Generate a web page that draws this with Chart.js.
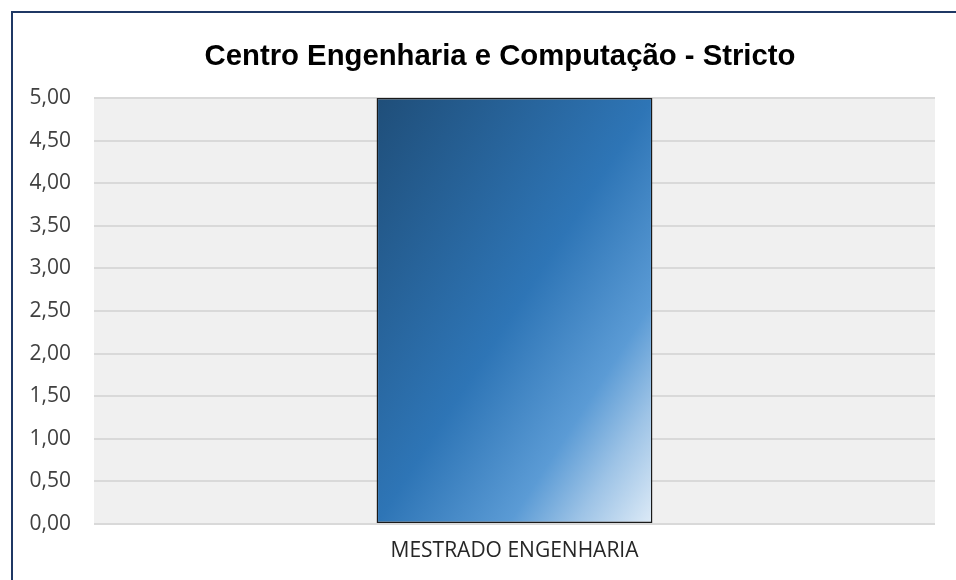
<!DOCTYPE html>
<html>
<head>
<meta charset="utf-8">
<script src="https://cdn.jsdelivr.net/npm/chart.js@4/dist/chart.umd.min.js"></script>
<style>
  html, body { margin: 0; padding: 0; background: #ffffff; }
  #wrap { position: relative; width: 956px; height: 580px; overflow: hidden; }
  #frame { position: absolute; left: 11px; top: 11px; width: 1000px; height: 700px; border: 2px solid #1f3864; box-sizing: border-box; }
  canvas { position: absolute; left: 0; top: 0; }
</style>
</head>
<body>
<div id="wrap">
  <div id="frame"></div>
  <canvas id="c" width="956" height="580"></canvas>
</div>
<script>
// Programas de pós-graduação stricto sensu do centro e respectivas notas
const categories = ['MESTRADO ENGENHARIA'];
const notas = [5.00];
const chartTitle = 'Centro Engenharia e Computação - Stricto';
const yMin = 0;
const yMax = 5;
const yStep = 0.5;

const BAR_PCT = 0.328;

// Fundo cinza da área de plotagem
const plotBackground = {
  id: 'plotBackground',
  beforeDraw(chart) {
    const { ctx, chartArea: a } = chart;
    ctx.save();
    ctx.fillStyle = '#f0f0f0';
    ctx.fillRect(a.left, a.top, a.right - a.left, a.bottom - a.top);
    ctx.restore();
  }
};

// Título centrado na moldura do gráfico (não apenas na área de plotagem)
const frameTitle = {
  id: 'frameTitle',
  afterDraw(chart, args, opts) {
    const ctx = chart.ctx;
    ctx.save();
    ctx.font = 'bold 29.3px "Liberation Sans", Arial, sans-serif';
    ctx.fillStyle = '#000000';
    ctx.textAlign = 'center';
    ctx.textBaseline = 'middle';
    ctx.fillText(opts.text, opts.x, opts.y);
    ctx.restore();
  }
};

// Degradê diagonal da barra: escuro no canto superior esquerdo, claro no inferior direito
function barGradient(context) {
  const chart = context.chart;
  const xs = chart.scales.x, ys = chart.scales.y;
  if (!chart.chartArea || !xs || !ys) return '#2e75b6';
  const i = context.dataIndex;
  const v = context.dataset.data[i];
  const w = (xs.width / categories.length) * BAR_PCT;
  const cx = xs.getPixelForValue(i);
  const top = ys.getPixelForValue(v);
  const base = ys.getPixelForValue(0);
  const h = Math.abs(base - top);
  if (!(w > 0 && h > 0) || !isFinite(cx)) return '#2e75b6';
  const cy = (top + base) / 2;
  const len = Math.sqrt(w * w + h * h);
  const d = (w * h) / len;
  const ux = h / len, uy = w / len;
  const g = chart.ctx.createLinearGradient(cx - d * ux, cy - d * uy, cx + d * ux, cy + d * uy);
  g.addColorStop(0, '#1f4e79');
  g.addColorStop(0.5, '#2e75b6');
  g.addColorStop(0.74, '#5b9bd5');
  g.addColorStop(0.86, '#9dc3e6');
  g.addColorStop(1, '#deebf7');
  return g;
}

new Chart(document.getElementById('c'), {
  type: 'bar',
  data: {
    labels: categories,
    datasets: [{
      label: 'Nota',
      data: notas,
      backgroundColor: barGradient,
      borderColor: '#1a1a1a',
      borderWidth: 1.5,
      borderSkipped: false,
      categoryPercentage: 1,
      barPercentage: BAR_PCT
    }]
  },
  options: {
    responsive: false,
    animation: false,
    devicePixelRatio: 1,
    layout: { padding: { top: 98, left: 0, right: 21, bottom: 0 } },
    plugins: {
      legend: { display: false },
      tooltip: { enabled: false },
      title: { display: false },
      frameTitle: { text: chartTitle, x: 500, y: 57 }
    },
    scales: {
      x: {
        grid: { display: false, drawTicks: false },
        border: { display: false },
        ticks: {
          color: '#262626',
          font: { family: 'Open Sans, sans-serif', size: 21 },
          padding: 14.5
        },
        afterFit(scale) { scale.height = 56; }
      },
      y: {
        min: yMin,
        max: yMax,
        grid: { color: '#d9d9d9', lineWidth: 2, drawTicks: false },
        border: { display: false },
        ticks: {
          stepSize: yStep,
          color: '#404040',
          font: { family: 'Open Sans, sans-serif', size: 21 },
          padding: 23,
          callback: v => Number(v).toFixed(2).replace('.', ',')
        },
        afterFit(scale) { scale.width = 94; }
      }
    }
  },
  plugins: [plotBackground, frameTitle]
});
</script>
</body>
</html>
